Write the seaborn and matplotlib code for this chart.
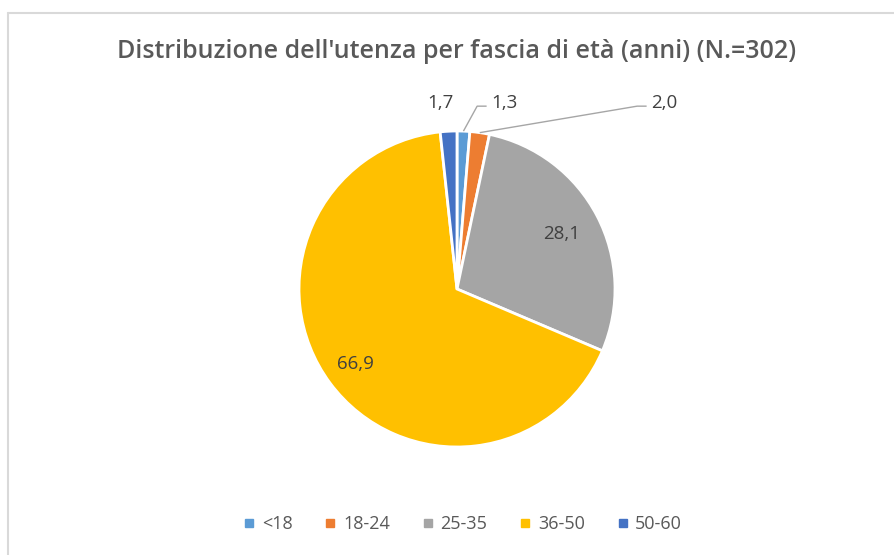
import numpy as np
import matplotlib
matplotlib.use("Agg")
import matplotlib.pyplot as plt
from matplotlib.lines import Line2D
import seaborn as sns

# Age bands and share of users (%)
categories = ["<18", "18-24", "25-35", "36-50", "50-60"]
shares = [1.3, 2.0, 28.1, 66.9, 1.7]
value_labels = ["1,3", "2,0", "28,1", "66,9", "1,7"]
title = "Distribuzione dell'utenza per fascia di età (anni) (N.=302)"

sns.set_theme(style="white")
plt.rcParams["font.family"] = ["Open Sans", "DejaVu Sans"]

colors = sns.color_palette(["#5B9BD5", "#ED7D31", "#A5A5A5", "#FFC000", "#4472C4"])
text_color = "#595959"
label_color = "#404040"

W, H = 894, 555
R_PX = 158.0
CX, CY = 457.0, 289.0  # pie centre in pixels from top-left

fig = plt.figure(figsize=(W / 100, H / 100), dpi=100)
fig.patch.set_facecolor("white")
ax = fig.add_axes([0, 0, 1, 1])

wedges, _ = ax.pie(
    shares,
    colors=colors,
    startangle=90,
    counterclock=False,
    radius=1.0,
    wedgeprops=dict(edgecolor="white", linewidth=2),
)

# one data unit == one pie radius in pixels, on both axes
ax.set_aspect("auto")
ax.set_xlim(-CX / R_PX, (W - CX) / R_PX)
ax.set_ylim(-(H - CY) / R_PX, CY / R_PX)
ax.axis("off")


def mid_dir(w):
    ang = np.deg2rad((w.theta1 + w.theta2) / 2)
    return np.cos(ang), np.sin(ang)


# inside labels
for i, dist in [(2, 0.75), (3, 0.80)]:
    dx, dy = mid_dir(wedges[i])
    ax.text(dx * dist, dy * dist, value_labels[i], ha="center", va="center",
            fontsize=13.5, color=label_color)

# outside labels for the thin slices
label_y = (CY - 103) / R_PX
outside = {
    0: ((504 - CX) / R_PX, True),
    1: ((664 - CX) / R_PX, True),
    4: ((440 - CX) / R_PX, False),
}
for i, (lx, leader) in outside.items():
    dx, dy = mid_dir(wedges[i])
    ax.text(lx, label_y, value_labels[i], ha="center", va="center",
            fontsize=13.5, color=label_color)
    if leader:
        tx = lx - 0.11
        ly = label_y - 0.02
        ax.plot([dx * 1.0, tx - 0.06, tx], [dy * 1.0, ly, ly],
                color="#A6A6A6", lw=1.0, solid_capstyle="butt")

fig.text(CX / W, 1 - 51 / H, title, ha="center", va="center",
         fontsize=18, fontweight="semibold", color=text_color)

handles = [Line2D([], [], marker="s", linestyle="", markersize=6,
                  markerfacecolor=c, markeredgecolor=c) for c in colors]
fig.legend(handles, categories, loc="center", bbox_to_anchor=(462 / W, 1 - 524 / H),
           ncol=5, frameon=False, fontsize=13, labelcolor=text_color,
           handletextpad=0.3, columnspacing=1.7, handlelength=0.8)

# chart-area border
border = "#D9D9D9"
fig.add_artist(Line2D([7.5 / W, 7.5 / W], [0, 1 - 12.5 / H], transform=fig.transFigure,
                      color=border, lw=1.5))
fig.add_artist(Line2D([7.5 / W, 1], [1 - 12.5 / H, 1 - 12.5 / H], transform=fig.transFigure,
                      color=border, lw=1.5))

fig.savefig("out.png", dpi=100, facecolor="white")
